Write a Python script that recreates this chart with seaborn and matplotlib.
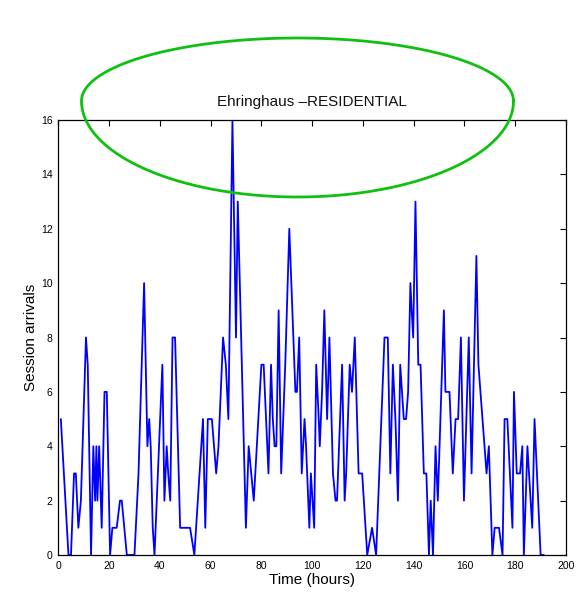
import numpy as np
import pandas as pd
import matplotlib
matplotlib.use("Agg")
import matplotlib.pyplot as plt
import seaborn as sns
from matplotlib.lines import Line2D

# ---- data ----
hours = [1, 4, 5, 6.2, 6.9, 7.9, 8.9, 10.9, 11.6, 12.9, 13.8, 14.5, 15, 15.4, 16.1, 17.1,
         18.2, 19.1, 20.4, 21.3, 23, 24.3, 25, 27, 30, 31.6, 33.8, 35.1, 35.8, 36.4, 37.2,
         37.9, 41, 41.8, 42.7, 43.3, 44.1, 45, 46, 48, 51.9, 53.6, 57, 57.9, 58.9, 60.5,
         62.2, 63.1, 64.9, 66, 67, 68.6, 70, 70.7, 73.9, 75, 76, 77, 80, 80.9, 82.8, 83.8,
         84.5, 85.2, 85.9, 86.8, 87.8, 89.4, 91, 93.4, 94, 94.9, 95.9, 97, 97.6, 98.9, 99.5,
         100.8, 101.6, 102.6, 103, 103.9, 104.8, 105.9, 106.8, 108.2, 109.2, 109.8, 111.8,
         112.8, 113.4, 114.8, 115.7, 116.8, 118.3, 119.7, 121.7, 123.6, 125.2, 128.5, 129.8,
         130.8, 131.8, 132.8, 133.8, 134.7, 136.1, 137, 137.8, 138.7, 139.2, 139.8, 140.7,
         141.8, 142.7, 144, 145, 146, 146.7, 147.6, 148.6, 149.5, 151.9, 152.5, 154.1, 155.4,
         156.5, 157.5, 158.6, 159.8, 161.7, 162.8, 163.5, 164.7, 165.5, 168.7, 169.6, 171,
         171.9, 173.6, 175, 175.8, 176.9, 178.9, 179.5, 180.6, 181.9, 182.8, 183.4, 184.8,
         186.7, 187.6, 190, 191.3]
arrivals = [5, 0, 0, 3, 3, 1, 2, 8, 7, 0, 4, 2, 4, 2, 4, 1,
            6, 6, 0, 1, 1, 2, 2, 0, 0, 3, 10, 4, 5, 4, 1,
            0, 7, 2, 4, 3, 2, 8, 8, 1, 1, 0, 5, 1, 5, 5,
            3, 4, 8, 7, 5, 16, 8, 13, 1, 4, 3, 2, 7, 7, 3, 7,
            5, 4, 4, 9, 3, 7, 12, 6, 6, 8, 3, 5, 4, 1, 3,
            1, 7, 5, 4, 6, 9, 5, 8, 3, 2, 2, 7,
            2, 3, 7, 6, 8, 3, 3, 0, 1, 0, 8, 8,
            3, 7, 5, 2, 7, 5, 5, 6, 10, 9, 8, 13,
            7, 7, 3, 3, 0, 2, 0, 4, 2, 9, 6, 6, 3,
            5, 5, 8, 2, 8, 3, 6, 11, 7, 3, 4, 0,
            1, 1, 0, 5, 5, 1, 6, 3, 3, 4, 0, 4,
            1, 5, 0, 0]
x_ticks = list(range(0, 201, 20))
y_ticks = list(range(0, 17, 2))
title = "Ehringhaus \u2013RESIDENTIAL"
x_label = "Time (hours)"
y_label = "Session arrivals"

df = pd.DataFrame({"hours": hours, "arrivals": arrivals})

sns.set_theme(style="white")
plt.rcParams["font.family"] = ["Liberation Sans", "DejaVu Sans"]

W, H = 585, 593
fig = plt.figure(figsize=(W / 100, H / 100), dpi=100)
ax = fig.add_axes([58.3 / W, 1 - 555 / H, (566 - 58.3) / W, (555 - 120) / H])

sns.lineplot(data=df, x="hours", y="arrivals", color="#0000ff", linewidth=1.3,
             estimator=None, sort=False, ax=ax)

ax.set_xlim(0, 200)
ax.set_ylim(0, 16)
ax.set_xticks(x_ticks)
ax.set_yticks(y_ticks)
ax.tick_params(direction="in", length=4, width=0.8, colors="black", labelsize=7.5,
               top=True, right=True, pad=4)
for s in ax.spines.values():
    s.set_visible(True)
    s.set_color("black")
    s.set_linewidth(0.9)
ax.set_title(title, fontsize=11, pad=10, color="#111111")
ax.set_xlabel(x_label, fontsize=11, labelpad=2, color="black")
ax.set_ylabel(y_label, fontsize=11, labelpad=2, color="black")
ax.grid(False)

# green hand-drawn highlight ellipse (annotation)
cx, cy, a, b_top, b_bot = 297.5, 101.0, 216.0, 63.0, 96.0
t = np.linspace(0, 2 * np.pi, 400)
ex = cx + a * np.cos(t)
ey = np.where(np.sin(t) >= 0, cy - b_top * np.sin(t), cy - b_bot * np.sin(t))
fig.add_artist(Line2D(ex / W, 1 - ey / H, transform=fig.transFigure,
                      color="#10c010", linewidth=2.0))

fig.savefig("out.png", dpi=100)
